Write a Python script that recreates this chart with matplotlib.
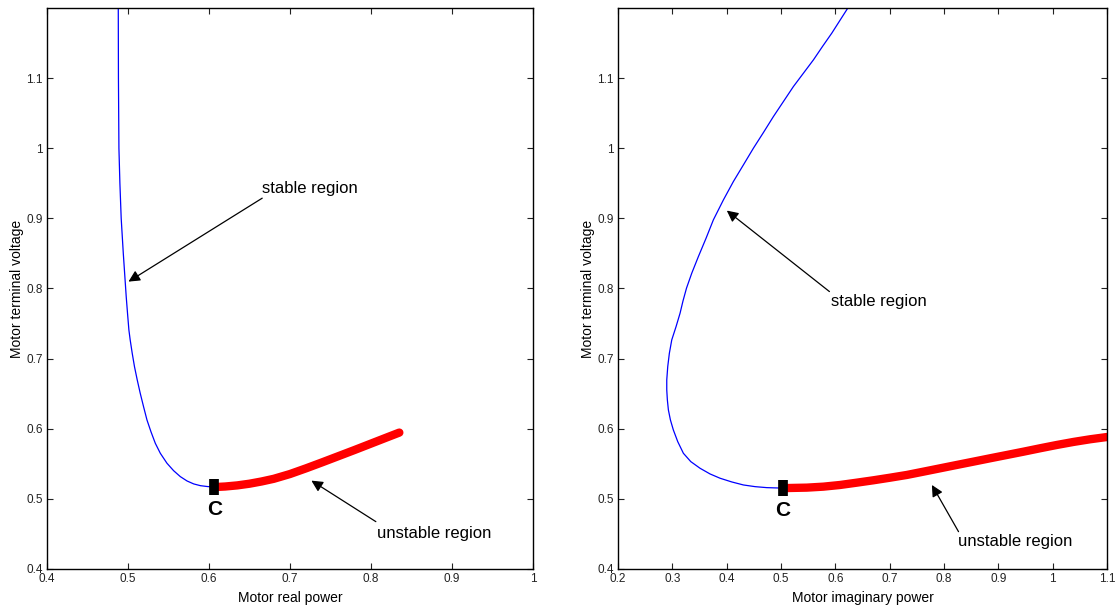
import matplotlib
matplotlib.use("Agg")
import matplotlib.pyplot as plt

plt.rcParams['font.family'] = ['Liberation Sans', 'DejaVu Sans']

# ---- Left panel: V vs real power P ----
p_stable = [0.4880, 0.4882, 0.4888, 0.4900, 0.4916, 0.4942, 0.4978, 0.4994, 0.5011, 0.5027, 0.5052,
            0.5080, 0.5114, 0.5151, 0.5192, 0.5234, 0.5283, 0.5337, 0.5399, 0.5481, 0.5563, 0.5646,
            0.5729, 0.5811, 0.5894, 0.5977, 0.6065]
v_stable_p = [1.2000, 1.1000, 1.0000, 0.9500, 0.9000, 0.8500, 0.7884, 0.7648, 0.7409, 0.7267, 0.7077,
              0.6886, 0.6696, 0.6506, 0.6315, 0.6126, 0.5959, 0.5793, 0.5650, 0.5508, 0.5402, 0.5317,
              0.5255, 0.5213, 0.5188, 0.5176, 0.5168]
p_unstable = [0.6065, 0.620, 0.635, 0.650, 0.665, 0.680, 0.700, 0.720, 0.740, 0.760, 0.780, 0.800, 0.820, 0.835]
v_unstable_p = [0.5168, 0.5176, 0.5192, 0.5216, 0.5248, 0.5286, 0.5354, 0.5436, 0.5522, 0.5610, 0.5698,
                0.5788, 0.5878, 0.5945]

# ---- Right panel: V vs imaginary power Q ----
q_stable = [0.6230, 0.5935, 0.5763, 0.5597, 0.5413, 0.5228, 0.5044, 0.4860, 0.4676, 0.4492, 0.4308,
            0.4123, 0.3940, 0.3755, 0.3621, 0.3479, 0.3357, 0.3260, 0.3195, 0.3142, 0.3068, 0.2989,
            0.2945, 0.2915, 0.2897, 0.2897, 0.2908, 0.2927, 0.2964, 0.3018, 0.3099, 0.3203, 0.3339,
            0.3510, 0.3694, 0.3878, 0.4094, 0.4308, 0.4523, 0.4738, 0.5030]
v_stable_q = [1.2000, 1.1642, 1.1451, 1.1261, 1.1071, 1.0880, 1.0666, 1.0452, 1.0224, 1.0001, 0.9763,
              0.9525, 0.9264, 0.8979, 0.8718, 0.8455, 0.8218, 0.8004, 0.7820, 0.7648, 0.7456, 0.7267,
              0.7077, 0.6886, 0.6696, 0.6553, 0.6411, 0.6268, 0.6126, 0.5983, 0.5816, 0.5650, 0.5531,
              0.5436, 0.5355, 0.5294, 0.5241, 0.5198, 0.5174, 0.5160, 0.5153]
q_unstable = [0.5030, 0.5475, 0.5781, 0.6088, 0.6396, 0.6702, 0.7009, 0.7317, 0.7622, 0.7930, 0.8238,
              0.8543, 0.8851, 0.9158, 0.9464, 0.9772, 1.0079, 1.0385, 1.0692, 1.1000]
v_unstable_q = [0.5153, 0.5160, 0.5174, 0.5198, 0.5231, 0.5265, 0.5302, 0.5341, 0.5388, 0.5436, 0.5484,
                0.5531, 0.5579, 0.5626, 0.5673, 0.5722, 0.5769, 0.5812, 0.5850, 0.5882]

p_ticks = [0.4, 0.5, 0.6, 0.7, 0.8, 0.9, 1.0]
p_ticklabels = ['0.4', '0.5', '0.6', '0.7', '0.8', '0.9', '1']
q_ticks = [0.2, 0.3, 0.4, 0.5, 0.6, 0.7, 0.8, 0.9, 1.0, 1.1]
q_ticklabels = ['0.2', '0.3', '0.4', '0.5', '0.6', '0.7', '0.8', '0.9', '1', '1.1']
v_ticks = [0.4, 0.5, 0.6, 0.7, 0.8, 0.9, 1.0, 1.1]
v_ticklabels = ['0.4', '0.5', '0.6', '0.7', '0.8', '0.9', '1', '1.1']

fig = plt.figure(figsize=(11.19, 6.06), dpi=100)
ax1 = fig.add_axes([0.0420, 0.0611, 0.4343, 0.9257])
ax2 = fig.add_axes([0.5523, 0.0611, 0.4370, 0.9257])

arrowprops = dict(arrowstyle='-|>', color='black', lw=0.9, mutation_scale=17,
                  shrinkA=0, shrinkB=0)

for ax, xs, vs, xu, vu, xt, xtl, xlim, xlabel in [
        (ax1, p_stable, v_stable_p, p_unstable, v_unstable_p, p_ticks, p_ticklabels, (0.4, 1.0), 'Motor real power'),
        (ax2, q_stable, v_stable_q, q_unstable, v_unstable_q, q_ticks, q_ticklabels, (0.2, 1.1), 'Motor imaginary power')]:
    ax.plot(xs, vs, color='#0000ff', lw=0.9, solid_joinstyle='round', antialiased=True)
    ax.plot(xu, vu, color='#ff0000', lw=6, solid_capstyle='round', solid_joinstyle='round')
    ax.plot([xu[0]], [vu[0]], marker='|', markersize=12, markeredgewidth=7, color='black')
    ax.set_xlim(*xlim)
    ax.set_ylim(0.4, 1.2)
    ax.set_xticks(xt)
    ax.set_xticklabels(xtl)
    ax.set_yticks(v_ticks)
    ax.set_yticklabels(v_ticklabels)
    ax.tick_params(direction='in', length=4, width=0.8, top=True, right=True,
                   labelsize=8.5, pad=3, colors='#222222', labelcolor='#222222')
    for s in ax.spines.values():
        s.set_linewidth(1.0)
    ax.set_xlabel(xlabel, fontsize=10, labelpad=4.5)
    ax.set_ylabel('Motor terminal voltage', fontsize=10, labelpad=2)
    ax.text(xu[0], vu[0] - 0.018, 'C', ha='center', va='top', fontsize=15, fontweight='bold')

# annotations, left
ax1.annotate('', xy=(0.5006, 0.8098), xytext=(0.6657, 0.9288), arrowprops=arrowprops)
ax1.text(0.6657, 0.9428, 'stable region', fontsize=12, ha='left', va='center')
ax1.annotate('', xy=(0.7264, 0.5260), xytext=(0.8060, 0.4675), arrowprops=arrowprops)
ax1.text(0.8072, 0.4510, 'unstable region', fontsize=12, ha='left', va='center')

# annotations, right
ax2.annotate('', xy=(0.4002, 0.9111), xytext=(0.5891, 0.7956), arrowprops=arrowprops)
ax2.text(0.5917, 0.7813, 'stable region', fontsize=12, ha='left', va='center')
ax2.annotate('', xy=(0.7777, 0.5198), xytext=(0.8267, 0.4532), arrowprops=arrowprops)
ax2.text(0.8260, 0.4385, 'unstable region', fontsize=12, ha='left', va='center')

fig.savefig('out.png', dpi=100)
